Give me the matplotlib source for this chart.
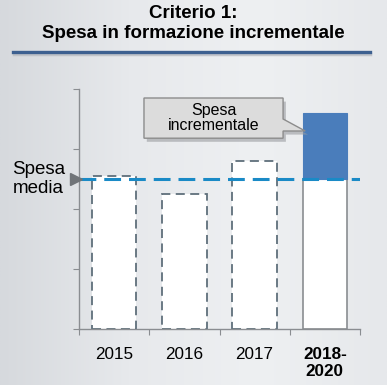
import matplotlib
matplotlib.use('Agg')
import matplotlib.pyplot as plt
import numpy as np
from matplotlib.patches import Polygon
from matplotlib.lines import Line2D
from matplotlib.colors import LinearSegmentedColormap

# data
categories = ['2015', '2016', '2017', '2018-\n2020']
spesa = [2.55, 2.25, 2.8, 3.6]
spesa_media = 2.5

plt.rcParams['font.family'] = ['Liberation Sans', 'DejaVu Sans']

fig = plt.figure(figsize=(3.87, 3.85), dpi=100)

# light grey background, a bit darker on the left like the photo behind the slide
bg = fig.add_axes([0, 0, 1, 1], zorder=-10)
cmap_bg = LinearSegmentedColormap.from_list('bg', ['#d6d9dd', '#e7e9ec', '#eef0f2', '#e6e8eb'])
grad = np.tile(np.linspace(0, 1, 256), (64, 1))
bg.imshow(grad, cmap=cmap_bg, aspect='auto', extent=[0, 1, 0, 1])
bg.axis('off')

# title + blue rule underneath
fig.text(0.5, 1 - 13/385, 'Criterio 1:', ha='center', va='center',
         fontsize=13.5, fontweight='bold')
fig.text(0.5, 1 - 34/385, 'Spesa in formazione incrementale', ha='center', va='center',
         fontsize=13.5, fontweight='bold')
fig.add_artist(Line2D([14/387, 370/387], [1 - 54/385, 1 - 54/385],
                      color='#b9bcc2', lw=2.5, alpha=0.8))
fig.add_artist(Line2D([13/387, 370/387], [1 - 52/385, 1 - 52/385],
                      color='#3d6090', lw=2.4))

ax = fig.add_axes([79/387, 1 - 329/385, 281/387, 240/385])
ax.patch.set_alpha(0)

x = np.arange(len(categories))
w = 0.63
n_hist = len(categories) - 1

# past years: white bars with dashed outline
ax.bar(x[:n_hist], spesa[:n_hist], width=w, color='white', edgecolor='#5f6f7b',
       linewidth=1.3, linestyle=(0, (5, 3)), zorder=2)

# last period: white up to the average, blue for the increment
ax.bar(x[n_hist], spesa_media, width=w, color='white', edgecolor='#8a8d91',
       linewidth=1.2, zorder=2)
ax.bar(x[n_hist], spesa[n_hist] - spesa_media, bottom=spesa_media, width=w,
       color='#4a7dbb', edgecolor='#4a7dbb', linewidth=0.8, zorder=2)

# average line
ax.axhline(spesa_media, color='#1a8ac6', lw=2.2, linestyle=(0, (5.5, 2.6)), zorder=3)
ax.plot([-0.012], [spesa_media], marker='>', color='#707478', markersize=8,
        transform=ax.get_yaxis_transform(), clip_on=False, zorder=4)
ax.text(-0.145, spesa_media, 'Spesa\nmedia', transform=ax.get_yaxis_transform(),
        ha='center', va='center', fontsize=13.5, linespacing=1.1)

# callout "Spesa incrementale"
box = [(0.425, 3.85), (2.405, 3.85), (2.405, 3.5), (2.72, 3.3),
       (2.405, 3.3), (2.405, 3.18), (0.425, 3.18)]
shadow = [(px + 0.04, py - 0.06) for px, py in box]
ax.add_patch(Polygon(shadow, closed=True, facecolor='#9a9ca0', edgecolor='none',
                     alpha=0.6, zorder=4))
ax.add_patch(Polygon(box, closed=True, facecolor='#dcdcdc', edgecolor='#8c8c8c',
                     linewidth=1.0, zorder=5))
ax.text(1.415, 3.515, 'Spesa\nincrementale', ha='center', va='center',
        fontsize=11.5, linespacing=1.05, zorder=6)

ax.set_xlim(-0.5, len(categories) - 0.5)
ax.set_ylim(0, 4)
ax.set_yticks([0, 1, 2, 3, 4])
ax.set_yticklabels([])
ax.set_xticks(np.arange(-0.5, len(categories)), labels=[])
ax.set_xticks(x, labels=categories, minor=True)
ax.tick_params(axis='x', which='minor', length=0, pad=13, labelsize=12.3)
ax.tick_params(axis='both', which='major', length=4, color='#8a8d91')
for lab in ax.get_xticklabels(minor=True):
    if '\n' in lab.get_text():
        lab.set_fontweight('bold')
    lab.set_linespacing(1.15)

for s in ['top', 'right']:
    ax.spines[s].set_visible(False)
for s in ['left', 'bottom']:
    ax.spines[s].set_color('#8a8d91')
    ax.spines[s].set_linewidth(1.0)

fig.savefig('out.png', dpi=100)
